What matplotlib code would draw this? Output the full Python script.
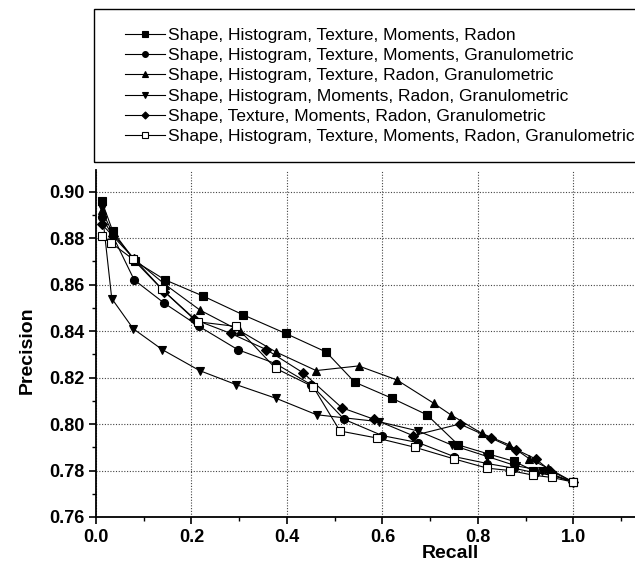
import matplotlib.pyplot as plt
from matplotlib.patches import Rectangle
from matplotlib.ticker import MultipleLocator

plt.rcParams['font.family'] = ['Liberation Sans', 'DejaVu Sans']

# Recall / precision values
labels = [
    "Shape, Histogram, Texture, Moments, Radon",
    "Shape, Histogram, Texture, Moments, Granulometric",
    "Shape, Histogram, Texture, Radon, Granulometric",
    "Shape, Histogram, Moments, Radon, Granulometric",
    "Shape, Texture, Moments, Radon, Granulometric",
    "Shape, Histogram, Texture, Moments, Radon, Granulometric",
]

rec_sq = [0.012, 0.035, 0.082, 0.145, 0.225, 0.308, 0.397, 0.482, 0.542, 0.621, 0.693, 0.759, 0.824, 0.875, 0.916, 0.955, 1.0]
prec_sq = [0.896, 0.883, 0.870, 0.862, 0.855, 0.847, 0.839, 0.831, 0.818, 0.811, 0.804, 0.791, 0.787, 0.784, 0.780, 0.778, 0.775]

rec_ci = [0.012, 0.035, 0.080, 0.143, 0.216, 0.297, 0.376, 0.450, 0.520, 0.600, 0.675, 0.750, 0.820, 0.875, 0.920, 0.955, 1.0]
prec_ci = [0.889, 0.881, 0.862, 0.852, 0.842, 0.832, 0.826, 0.817, 0.802, 0.795, 0.792, 0.786, 0.783, 0.781, 0.779, 0.778, 0.775]

rec_tu = [0.012, 0.035, 0.080, 0.145, 0.218, 0.302, 0.377, 0.461, 0.550, 0.630, 0.707, 0.743, 0.808, 0.866, 0.908, 0.947, 1.0]
prec_tu = [0.892, 0.882, 0.871, 0.860, 0.849, 0.840, 0.831, 0.823, 0.825, 0.819, 0.809, 0.804, 0.796, 0.791, 0.785, 0.781, 0.775]

rec_td = [0.012, 0.033, 0.078, 0.139, 0.217, 0.293, 0.378, 0.462, 0.593, 0.675, 0.745, 0.820, 0.880, 0.935, 1.0]
prec_td = [0.893, 0.854, 0.841, 0.832, 0.823, 0.817, 0.811, 0.804, 0.801, 0.797, 0.791, 0.786, 0.782, 0.780, 0.775]

rec_di = [0.012, 0.035, 0.080, 0.143, 0.206, 0.282, 0.357, 0.434, 0.515, 0.583, 0.664, 0.762, 0.827, 0.880, 0.921, 0.951, 1.0]
prec_di = [0.886, 0.881, 0.871, 0.857, 0.845, 0.839, 0.832, 0.822, 0.807, 0.802, 0.795, 0.800, 0.794, 0.789, 0.785, 0.780, 0.775]

rec_os = [0.012, 0.031, 0.077, 0.138, 0.213, 0.293, 0.376, 0.455, 0.511, 0.588, 0.668, 0.750, 0.820, 0.867, 0.916, 0.955, 1.0]
prec_os = [0.881, 0.878, 0.871, 0.858, 0.844, 0.842, 0.824, 0.816, 0.797, 0.794, 0.790, 0.785, 0.781, 0.780, 0.778, 0.777, 0.775]

series = [
    (rec_sq, prec_sq, "s", "black"),
    (rec_ci, prec_ci, "o", "black"),
    (rec_tu, prec_tu, "^", "black"),
    (rec_td, prec_td, "v", "black"),
    (rec_di, prec_di, "D", "black"),
    (rec_os, prec_os, "s", "white"),
]

W, H = 635, 580
fig = plt.figure(figsize=(W / 100, H / 100), dpi=100)
ax = fig.add_axes([96 / W, 1 - 517 / H, 1 - 96 / W, (517 - 170) / H])

handles = []
for (x, y, m, fc), lab in zip(series, labels):
    ms = 5.8 if m != "D" else 5.0
    h, = ax.plot(x, y, color="black", lw=0.8, marker=m, markersize=ms,
                 markerfacecolor=fc, markeredgecolor="black", markeredgewidth=0.8,
                 label=lab)
    handles.append(h)

ax.set_xlim(0, 1.129)
ax.set_ylim(0.76, 0.9093)
ax.xaxis.set_minor_locator(MultipleLocator(0.1))
ax.yaxis.set_minor_locator(MultipleLocator(0.01))
ax.set_xticks([0.0, 0.2, 0.4, 0.6, 0.8, 1.0])
ax.set_xticklabels(["0.0", "0.2", "0.4", "0.6", "0.8", "1.0"])
ax.set_yticks([0.76, 0.78, 0.80, 0.82, 0.84, 0.86, 0.88, 0.90])
ax.set_yticklabels(["0.76", "0.78", "0.80", "0.82", "0.84", "0.86", "0.88", "0.90"])

ax.grid(True, which="major", linestyle=(0, (1, 1.5)), color="#444444", linewidth=0.8)
ax.set_axisbelow(True)
ax.spines["top"].set_visible(False)
ax.spines["right"].set_visible(False)
ax.spines["left"].set_linewidth(1.3)
ax.spines["bottom"].set_linewidth(1.3)
ax.tick_params(which="major", direction="out", length=5, width=1.2, labelsize=13)
ax.tick_params(which="minor", direction="out", length=3, width=1.0)
for t in ax.get_xticklabels() + ax.get_yticklabels():
    t.set_fontweight("bold")

ax.set_xlabel("Recall", fontsize=14, fontweight="bold")
ax.set_ylabel("Precision", fontsize=14, fontweight="bold")
ax.xaxis.set_label_coords((450 - 96) / (W - 96), -(553 - 517) / (517 - 170), transform=ax.transAxes)
ax.yaxis.set_label_coords(-(96 - 27) / (W - 96), (517 - 350) / (517 - 170), transform=ax.transAxes)
ax.xaxis.label.set_va("center")
ax.yaxis.label.set_va("center")

# legend box (runs off the right edge like the reference)
fig.patches.append(Rectangle((94 / W, 1 - 162 / H), 1.0, (162 - 9) / H,
                             transform=fig.transFigure, fill=False,
                             edgecolor="black", linewidth=1.0))
leg = fig.legend(handles=handles, loc="center left",
                 bbox_to_anchor=(125 / W, 1 - 86 / H),
                 fontsize=12.5, frameon=False,
                 handlelength=2.3, handletextpad=0.2, labelspacing=0.3,
                 borderpad=0, borderaxespad=0, markerscale=0.72)

fig.savefig("out.png", dpi=100)
